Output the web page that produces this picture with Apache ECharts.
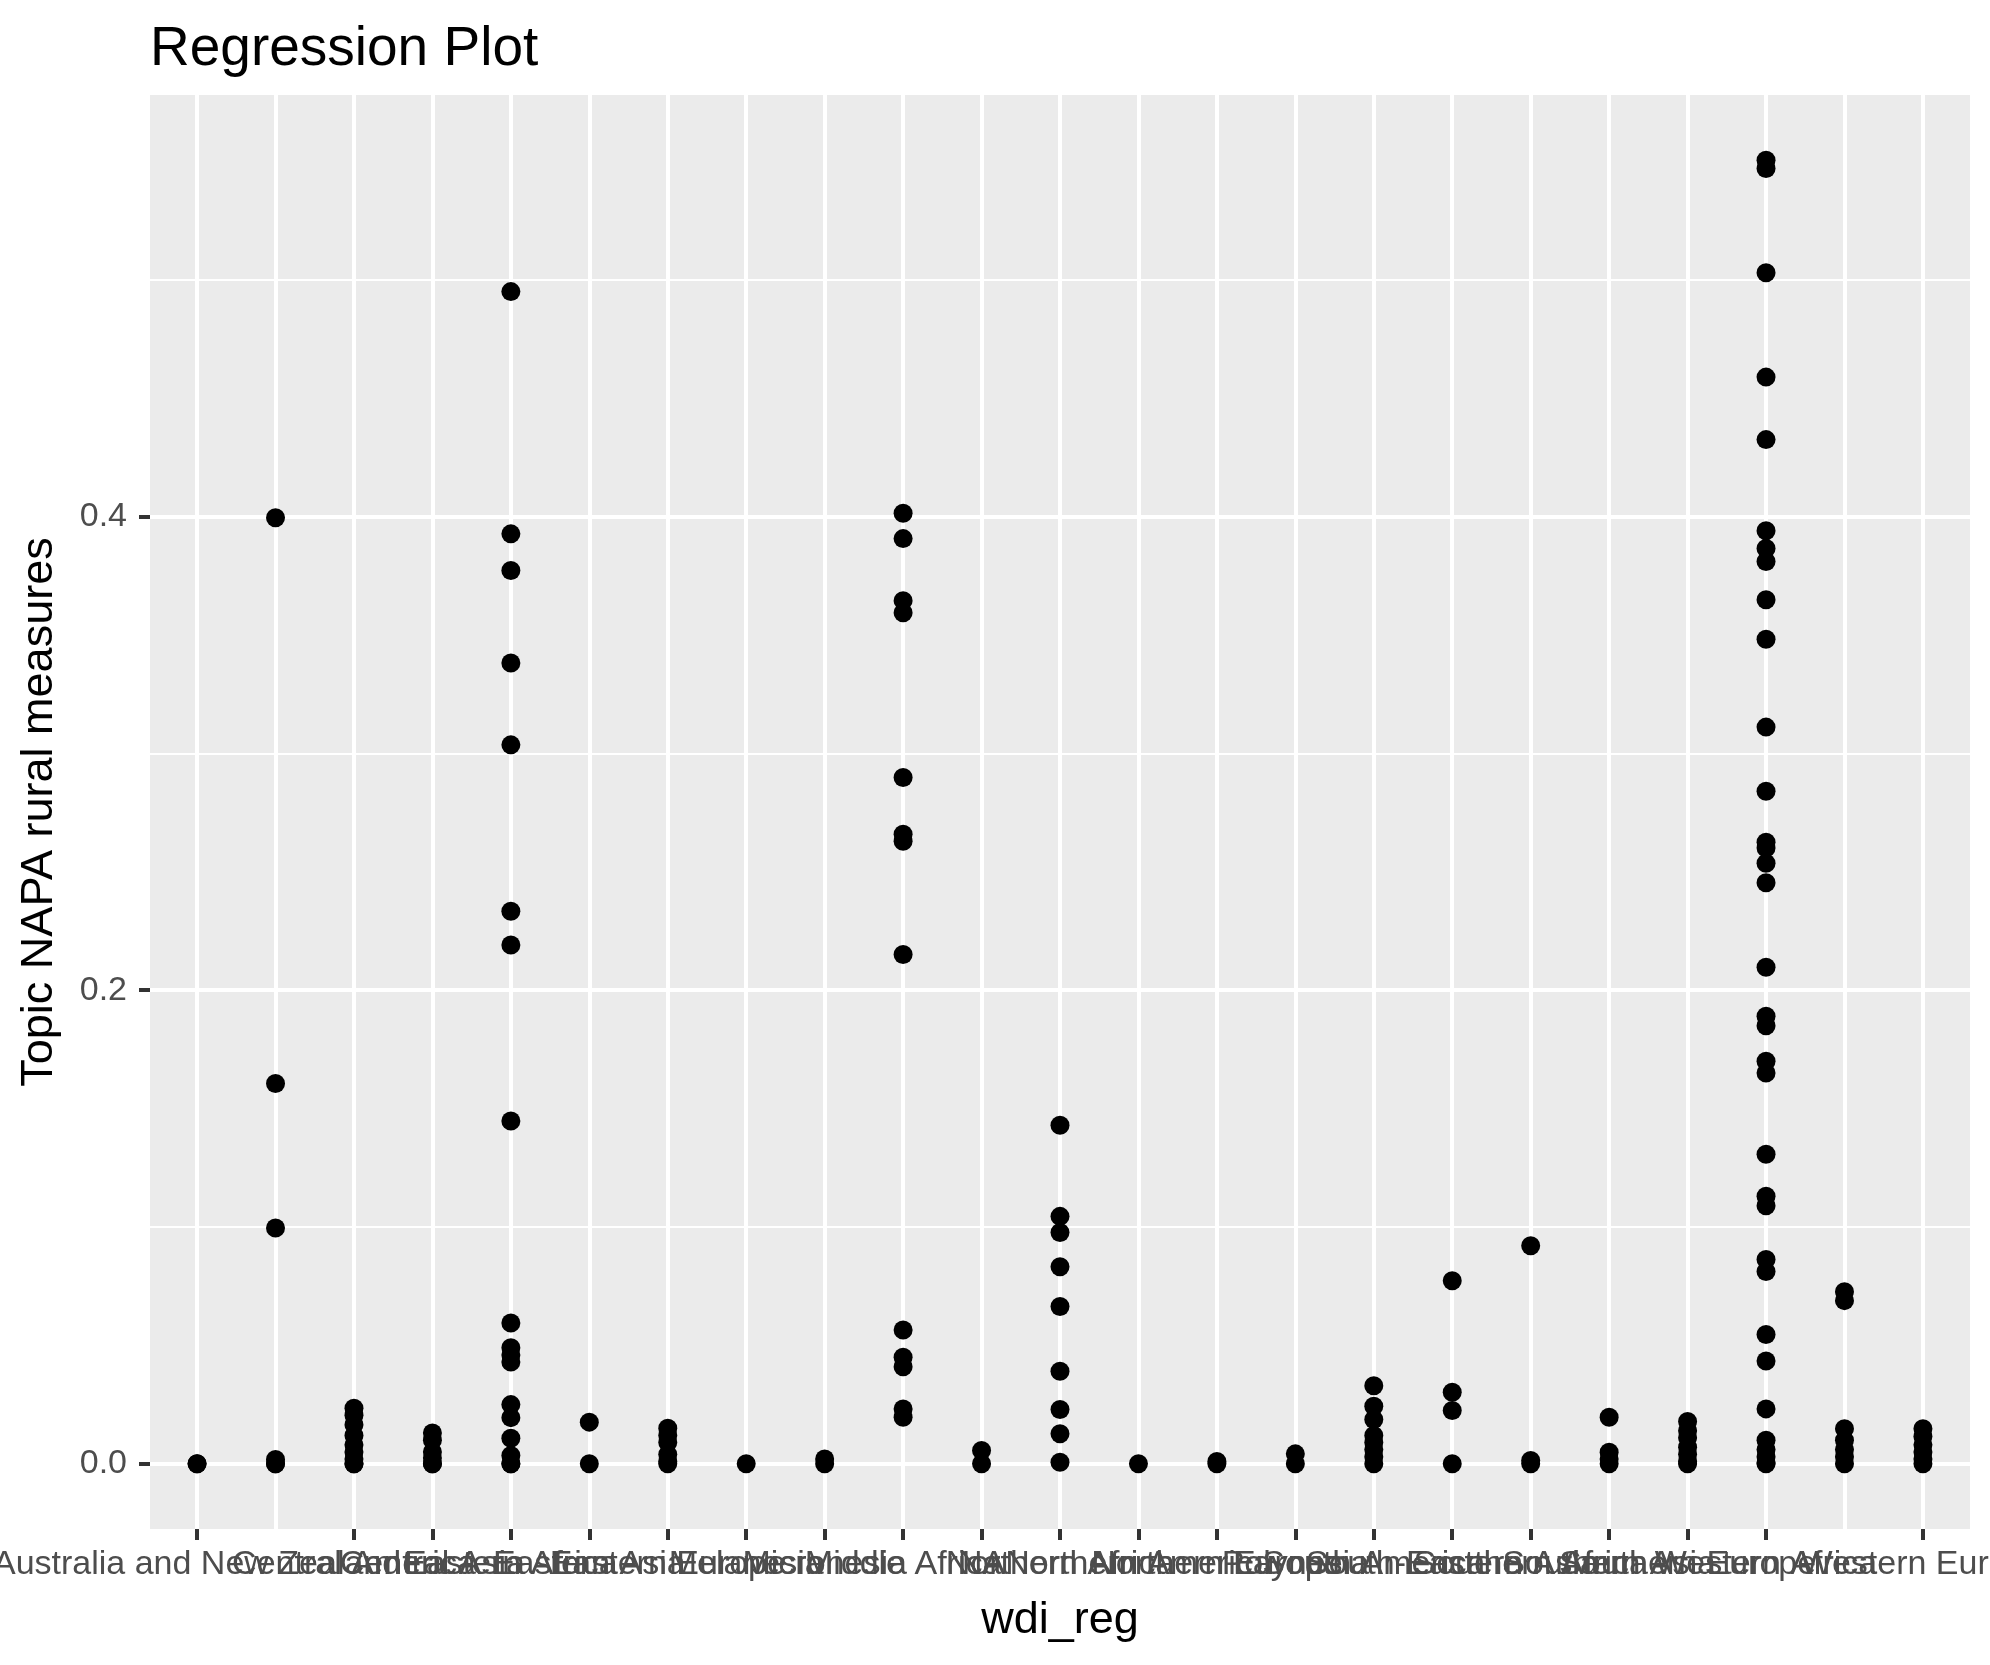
<!DOCTYPE html>
<html><head><meta charset="utf-8">
<script src="https://cdn.jsdelivr.net/npm/echarts@6/dist/echarts.min.js"></script>
<style>html,body{margin:0;padding:0;background:#fff}#c{width:1990px;height:1665px}</style>
</head><body><div id="c"></div>
<script>
// ---- data ----
const categories = [
  'Australia and New Zealand', 'Caribbean', 'Central America', 'Central Asia',
  'Eastern Africa', 'Eastern Asia', 'Eastern Europe', 'Melanesia', 'Micronesia',
  'Middle Africa', 'NA', 'Northern Africa', 'Northern America', 'Northern Europe',
  'Polynesia', 'South America', 'South-Eastern Asia', 'Southern Africa',
  'Southern Asia', 'Southern Europe', 'Western Africa', 'Western Asia', 'Western Europe'
];
const vAustraliaNZ = [0, 0];
const vCaribbean = [0.3995, 0.1606, 0.0996, 0.0018, 0, 0];
const vCentralAmerica = [0.0235, 0.0205, 0.0165, 0.0120, 0.0080, 0.0050, 0.0020, 0, 0];
const vCentralAsia = [0.0130, 0.0100, 0.0050, 0.0025, 0, 0];
const vEasternAfrica = [0.4950, 0.3927, 0.3772, 0.3382, 0.3036, 0.2333, 0.2191, 0.1448, 0.0595, 0.0490, 0.0460, 0.0430, 0.0250, 0.0195, 0.0108, 0.0035, 0, 0];
const vEasternAsia = [0.0176, 0];
const vEasternEurope = [0.0150, 0.0120, 0.0090, 0.0040, 0.0010, 0];
const vMelanesia = [0];
const vMicronesia = [0.0020, 0];
const vMiddleAfrica = [0.4014, 0.3907, 0.3645, 0.3594, 0.2898, 0.2659, 0.2629, 0.2151, 0.0565, 0.0450, 0.0410, 0.0232, 0.0197];
const vNA = [0.0056, 0];
const vNorthernAfrica = [0.1430, 0.1045, 0.0977, 0.0832, 0.0664, 0.0391, 0.0229, 0.0127, 0.0007];
const vNorthernAmerica = [0];
const vNorthernEurope = [0.0010, 0];
const vPolynesia = [0.0042, 0];
const vSouthAmerica = [0.0330, 0.0243, 0.0187, 0.0120, 0.0090, 0.0060, 0.0030, 0];
const vSouthEasternAsia = [0.0773, 0.0302, 0.0225, 0];
const vSouthernAfrica = [0.0921, 0.0014, 0];
const vSouthernAsia = [0.0197, 0.0049, 0.0020, 0];
const vSouthernEurope = [0.0179, 0.0140, 0.0110, 0.0070, 0.0040, 0.0010, 0];
const vWesternAfrica = [0.5505, 0.5470, 0.5030, 0.4589, 0.4325, 0.3940, 0.3865, 0.3810, 0.3649, 0.3482, 0.3111, 0.2840, 0.2625, 0.2600, 0.2536, 0.2454, 0.2097, 0.1890, 0.1850, 0.1700, 0.1650, 0.1307, 0.1130, 0.1090, 0.0863, 0.0812, 0.0546, 0.0434, 0.0232, 0.0100, 0.0060, 0.0030, 0.0005, 0];
const vWesternAsia = [0.0727, 0.0689, 0.0148, 0.0100, 0.0060, 0.0030, 0];
const vWesternEurope = [0.0148, 0.0115, 0.0080, 0.0050, 0.0020, 0];

const yMajorTicks = [0, 0.2, 0.4];
const yMinorTicks = [0.1, 0.3, 0.5];
const yTickLabels = ['0.0', '0.2', '0.4'];

// ---- build ----
const regionValues = [vAustraliaNZ, vCaribbean, vCentralAmerica, vCentralAsia, vEasternAfrica,
  vEasternAsia, vEasternEurope, vMelanesia, vMicronesia, vMiddleAfrica, vNA, vNorthernAfrica,
  vNorthernAmerica, vNorthernEurope, vPolynesia, vSouthAmerica, vSouthEasternAsia, vSouthernAfrica,
  vSouthernAsia, vSouthernEurope, vWesternAfrica, vWesternAsia, vWesternEurope];
const points = [];
regionValues.forEach((vals, i) => vals.forEach(v => points.push([i, v])));
const allV = points.map(p => p[1]);
const dMin = Math.min(...allV), dMax = Math.max(...allV);
const yMin = dMin - 0.05 * (dMax - dMin), yMax = dMax + 0.05 * (dMax - dMin);
const n = categories.length;
const xIdx = categories.map((_, i) => i);

const font = '"Liberation Sans", Arial, Helvetica, sans-serif';
const chart = echarts.init(document.getElementById('c'), null, { renderer: 'canvas' });
chart.setOption({
  animation: false,
  backgroundColor: '#FFFFFF',
  title: {
    text: 'Regression Plot', left: 150, top: 22, padding: 0,
    textStyle: { fontFamily: font, fontSize: 55, fontWeight: 'normal', color: '#000000' }
  },
  grid: {
    left: 150, right: 20, top: 95, bottom: 136,
    show: true, backgroundColor: '#EBEBEB', borderWidth: 0,
    containLabel: false, outerBoundsMode: 'none'
  },
  xAxis: {
    type: 'value', min: -0.6, max: n - 1 + 0.6,
    axisLine: { show: false, onZero: false },
    axisTick: { show: true, customValues: xIdx, length: 11, lineStyle: { color: '#333333', width: 4 } },
    axisLabel: {
      customValues: xIdx, formatter: v => categories[Math.round(v)],
      showMinLabel: true, showMaxLabel: true,
      margin: 19, fontFamily: font, fontSize: 34, color: '#4D4D4D', hideOverlap: false
    },
    splitLine: { show: true, lineStyle: { color: '#FFFFFF', width: 4 } },
    name: 'wdi_reg', nameLocation: 'middle', nameGap: 69,
    nameTextStyle: { fontFamily: font, fontSize: 45, color: '#000000' }
  },
  yAxis: [
    {
      type: 'value', min: yMin, max: yMax,
      axisLine: { show: false, onZero: false },
      axisTick: { show: true, customValues: yMajorTicks, length: 11, lineStyle: { color: '#333333', width: 4 } },
      axisLabel: {
        customValues: yMajorTicks,
        formatter: v => yTickLabels[yMajorTicks.findIndex(t => Math.abs(t - v) < 1e-9)],
        showMinLabel: true, showMaxLabel: true,
        margin: 23, fontFamily: font, fontSize: 34, color: '#4D4D4D'
      },
      splitLine: { show: true, lineStyle: { color: '#FFFFFF', width: 4 } },
      name: 'Topic NAPA rural measures', nameLocation: 'middle', nameGap: 88,
      nameTextStyle: { fontFamily: font, fontSize: 45, color: '#000000' },
      z: 1
    },
    {
      type: 'value', min: yMin, max: yMax, position: 'left',
      axisLine: { show: false, onZero: false },
      axisTick: { show: false, customValues: yMinorTicks },
      axisLabel: { show: false, customValues: yMinorTicks },
      splitLine: { show: true, lineStyle: { color: '#FFFFFF', width: 2 } },
      z: 0
    }
  ],
  series: [{
    type: 'scatter', xAxisIndex: 0, yAxisIndex: 0,
    data: points, symbol: 'circle', symbolSize: 19,
    itemStyle: { color: '#000000', opacity: 1 },
    z: 5
  }]
});
</script></body></html>
